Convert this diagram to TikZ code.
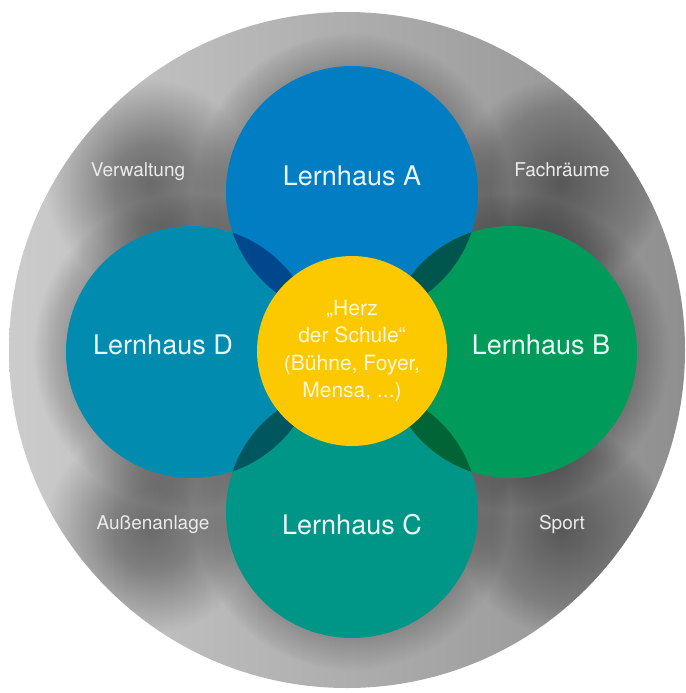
\documentclass[tikz,border=0pt]{standalone}
\usepackage{fontspec}
\setmainfont{TeX Gyre Heros}

\definecolor{hausA}{HTML}{007DC3}
\definecolor{hausB}{HTML}{009B5A}
\definecolor{hausC}{HTML}{009687}
\definecolor{hausD}{HTML}{008BAF}
\definecolor{lensAB}{HTML}{00564C}
\definecolor{lensBC}{HTML}{006436}
\definecolor{lensCD}{HTML}{00565E}
\definecolor{lensDA}{HTML}{00478D}
\definecolor{herzgelb}{HTML}{FCC800}

\begin{document}
\begin{tikzpicture}
[ x=1pt, y=-1pt
, haus/.style={circle, minimum size=252pt, inner sep=0pt}
, herz/.style={circle, minimum size=190pt, inner sep=0pt, fill=herzgelb, align=center, text=white, text opacity=0.85, font=\fontsize{21}{27.5}\selectfont}
, hauslabel/.style={text height=0.72em, text depth=0pt, inner sep=0pt, text=white, text opacity=0.92, font=\fontsize{27}{30}\selectfont}
, bereich/.style={text height=0.72em, text depth=0pt, inner sep=0pt, text=black!8, font=\fontsize{19}{22}\selectfont}
, schatten/.style={fill=black, opacity=0.0075}
, halo/.style={fill=black, opacity=0.011}
]
\useasboundingbox (0,0) rectangle (685,693);
% Centres:
\coordinate (mitte) at (347,350);
\coordinate (mA) at (352,192);
\coordinate (mB) at (511,352);
\coordinate (mC) at (352,512);
\coordinate (mD) at (192,352);
\coordinate (sVerw) at (150,184);
\coordinate (sFach) at (560,184);
\coordinate (sAuss) at (150,530);
\coordinate (sSport) at (562,530);
% Grey disc with its shadows:
\begin{scope}
  \clip (0,0) rectangle (685,693);
  \shade[left color=black!20, right color=black!44] (mitte) circle (338pt);
  \clip (mitte) circle (338pt);
  \foreach \s in {sVerw,sFach,sAuss,sSport}
    \foreach \r in {2,4,...,104}
      \fill[schatten] (\s) circle (\r pt);
  \foreach \m in {mA,mB,mC,mD}
    \foreach \r in {128,130,...,158}
      \fill[halo] (\m) circle (\r pt);
\end{scope}
% Lernhaeuser:
\node (lhA) [haus, fill=hausA] at (mA) {};
\node (lhB) [haus, fill=hausB] at (mB) {};
\node (lhC) [haus, fill=hausC] at (mC) {};
\node (lhD) [haus, fill=hausD] at (mD) {};
% Overlaps:
\begin{scope}
  \clip (lhA.center) circle (126pt);
  \fill[lensAB] (lhB.center) circle (126pt);
  \fill[lensDA] (lhD.center) circle (126pt);
\end{scope}
\begin{scope}
  \clip (lhC.center) circle (126pt);
  \fill[lensBC] (lhB.center) circle (126pt);
  \fill[lensCD] (lhD.center) circle (126pt);
\end{scope}
% Herz der Schule:
\node (herz) [herz] at (352,351) {„Herz\\der Schule“\\(Bühne, Foyer,\\Mensa, ...)};
% Labels:
\node (lblA) [hauslabel] at (352,182) {Lernhaus A};
\node (lblB) [hauslabel] at (541,351) {Lernhaus B};
\node (lblC) [hauslabel] at (352,531) {Lernhaus C};
\node (lblD) [hauslabel] at (163,351) {Lernhaus D};
\node (verw) [bereich] at (138,173) {Verwaltung};
\node (fach) [bereich] at (562,173) {Fachräume};
\node (auss) [bereich] at (153,526) {Außenanlage};
\node (sport) [bereich] at (562,526) {Sport};
\end{tikzpicture}
\end{document}
